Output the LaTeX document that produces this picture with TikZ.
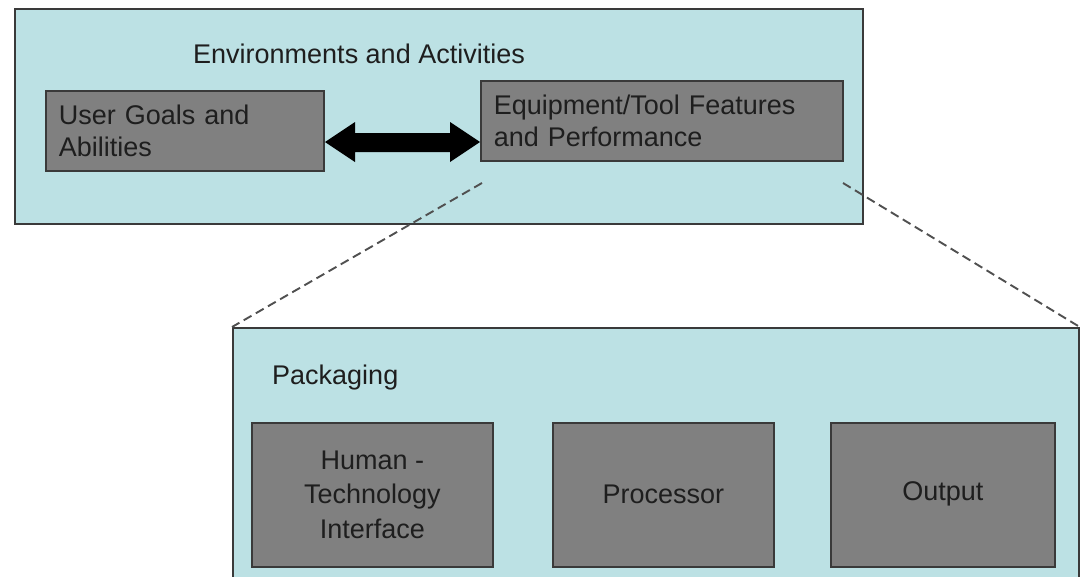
\documentclass[tikz,border=0pt]{standalone}
\usepackage{fontspec}
\setmainfont{Liberation Sans}
\usetikzlibrary{calc}
\definecolor{panel}{HTML}{BCE1E4}
\definecolor{boxgray}{HTML}{808080}
\definecolor{edge}{HTML}{3A3A3A}
\definecolor{dashgray}{HTML}{505050}
\definecolor{ink}{HTML}{1E1E1E}
\begin{document}
\begin{tikzpicture}[x=1pt,y=-1pt,
  panelbox/.style={draw=edge,line width=1.8pt,fill=panel,anchor=north west,inner sep=0pt},
  graybox/.style={draw=edge,line width=1.6pt,fill=boxgray,anchor=north west,inner xsep=13pt,inner ysep=0pt,
    text=ink,font=\fontsize{27}{32}\selectfont},
  leftbox/.style={graybox,align=left},
  centerbox/.style={graybox,align=center,inner xsep=0pt,font=\fontsize{27}{34.5}\selectfont},
  label/.style={text=ink,font=\fontsize{27}{32}\selectfont,anchor=base west,inner sep=0pt},
  zoomline/.style={draw=dashgray,line width=1.9pt,dash pattern=on 9pt off 5pt}
]
\useasboundingbox (0,0) rectangle (1081,576);
\clip (0,0) rectangle (1081,576);
\fill[white] (0,0) rectangle (1081,576);

% top panel
\node[panelbox,minimum width=848pt,minimum height=215pt] (env) at (14,8) {};
\node[label] (envt) at (193,63) {Environments and Activities};
\node[leftbox,minimum width=278pt,minimum height=80pt,text width=252pt] (user) at (45,90)
  {User Goals and\\Abilities};
\node[leftbox,minimum width=362pt,minimum height=80pt,text width=336pt] (equip) at (480,80)
  {Equipment/Tool Features\\and Performance};

% double arrow
\coordinate (al) at (325,142);
\coordinate (ar) at (480,142);
\fill[black] (al) -- ++(30,-20) -- ++(0,11) -- ($(ar)+(-30,-9)$) -- ++(0,-11) -- (ar)
  -- ++(-30,20) -- ++(0,-10) -- ($(al)+(30,10)$) -- ++(0,10) -- cycle;

% bottom panel
\node[panelbox,minimum width=846pt,minimum height=280pt] (pack) at (232,327) {};
\node[label] (packt) at (272,384) {Packaging};
\node[centerbox,minimum width=241pt,minimum height=144pt] (hti) at (251,422)
  {Human -\\Technology\\Interface};
\node[centerbox,minimum width=221pt,minimum height=144pt] (proc) at (552,422) {Processor};
\node[centerbox,minimum width=224pt,minimum height=144pt] (out) at (830,422) {\raisebox{7pt}{Output}};

% zoom lines
\coordinate (zl) at (482,183);
\coordinate (zr) at (843,183);
\draw[zoomline] (zl) -- (pack.north west);
\draw[zoomline] (zr) -- (pack.north east);
\end{tikzpicture}
\end{document}
